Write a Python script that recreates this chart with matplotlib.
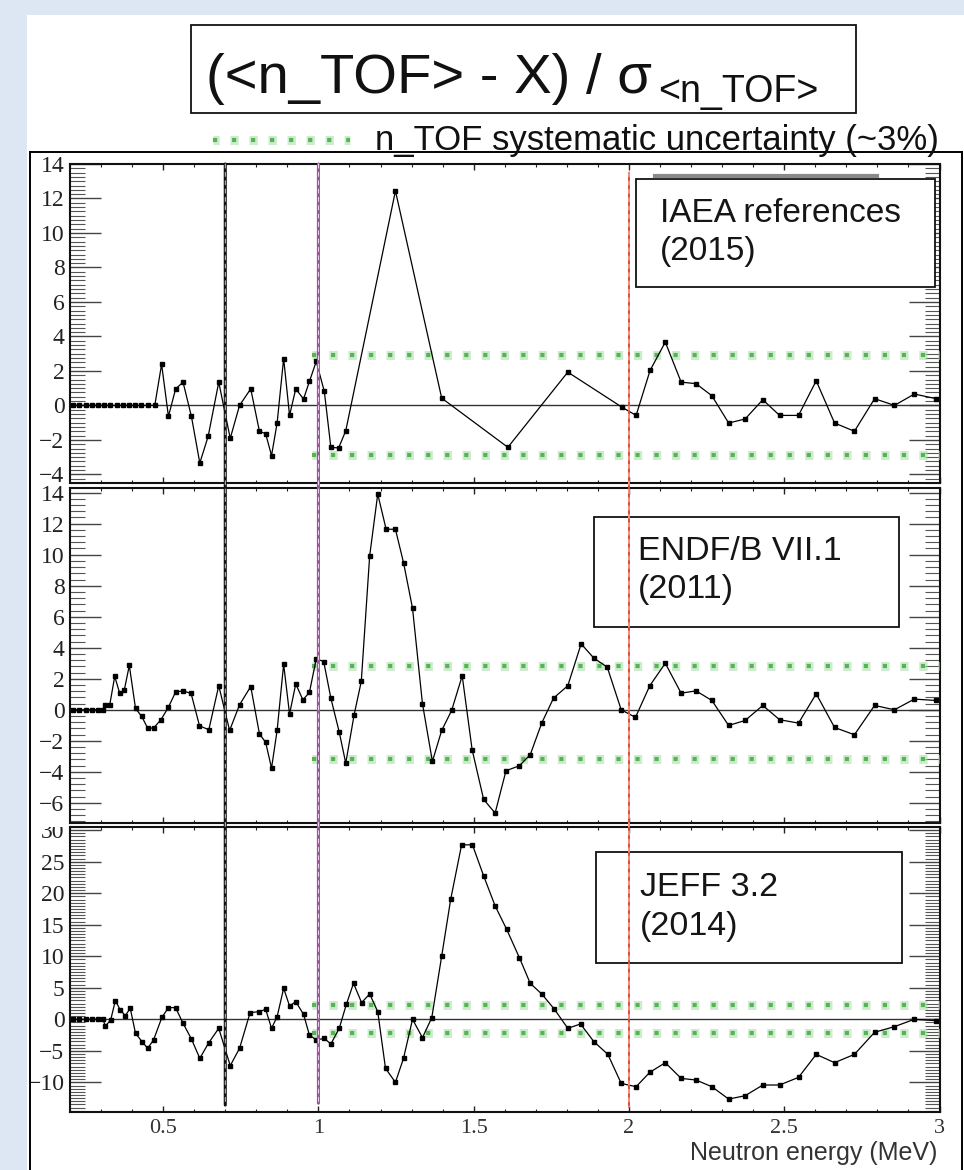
import matplotlib
matplotlib.use('Agg')
import matplotlib.pyplot as plt
from matplotlib.patches import Rectangle, ConnectionPatch
from matplotlib.lines import Line2D
from matplotlib.ticker import MultipleLocator, AutoMinorLocator, FixedLocator, FixedFormatter
from matplotlib.transforms import Bbox, TransformedBbox

plt.rcParams['lines.scale_dashes'] = False

# ---------------- data ----------------
energy_iaea = [0.21, 0.23, 0.25, 0.27, 0.29, 0.31, 0.33, 0.35, 0.37, 0.39, 0.41, 0.43, 0.45, 0.473,
               0.495, 0.517, 0.540, 0.564, 0.591, 0.618, 0.645, 0.679, 0.716, 0.746,
               0.782, 0.810, 0.830, 0.849, 0.867, 0.888, 0.907, 0.927, 0.952, 0.971,
               0.993, 1.019, 1.040, 1.065, 1.088, 1.248, 1.397, 1.610, 1.803, 1.978,
               2.023, 2.068, 2.117, 2.168, 2.216, 2.267, 2.321, 2.374, 2.431, 2.485,
               2.546, 2.603, 2.662, 2.726, 2.791, 2.855, 2.919, 2.989]
dev_iaea = [0, 0, 0, 0, 0, 0, 0, 0, 0, 0, 0, 0, 0, 0,
            2.39, -0.64, 0.95, 1.35, -0.64, -3.34, -1.79, 1.35, -1.91, 0.0,
            0.96, -1.5, -1.64, -2.91, -1.02, 2.72, -0.58, 0.96, 0.37, 1.39,
            2.55, 0.81, -2.43, -2.47, -1.47, 12.44, 0.42, -2.43, 1.93, -0.11,
            -0.58, 2.03, 3.67, 1.35, 1.26, 0.56, -1.02, -0.79, 0.33, -0.58,
            -0.58, 1.43, -1.02, -1.5, 0.39, 0.0, 0.66, 0.39]

energy_endf = [0.21, 0.23, 0.25, 0.27, 0.29, 0.306,
               0.312, 0.328, 0.344, 0.360, 0.375, 0.391, 0.411, 0.431, 0.450, 0.469,
               0.493, 0.517, 0.540, 0.564, 0.590, 0.617, 0.647, 0.679, 0.714, 0.746,
               0.782, 0.810, 0.830, 0.849, 0.867, 0.888, 0.907, 0.927, 0.950, 0.971,
               0.993, 1.017, 1.040, 1.067, 1.088, 1.115, 1.138, 1.165, 1.191, 1.218,
               1.248, 1.274, 1.303, 1.335, 1.367, 1.397, 1.429, 1.463, 1.495, 1.532,
               1.569, 1.604, 1.647, 1.682, 1.719, 1.757, 1.803, 1.846, 1.887, 1.930,
               1.975, 2.021, 2.067, 2.117, 2.168, 2.216, 2.267, 2.321, 2.374, 2.431,
               2.485, 2.546, 2.603, 2.662, 2.726, 2.791, 2.855, 2.919, 2.989]
dev_endf = [0, 0, 0, 0, 0, 0,
            0.32, 0.32, 2.15, 1.07, 1.29, 2.86, 0.09, -0.43, -1.18, -1.18,
            -0.64, 0.17, 1.14, 1.22, 1.05, -1.03, -1.29, 1.55, -1.33, 0.32,
            1.50, -1.55, -2.10, -3.76, -1.33, 2.94, -0.28, 1.67, 0.64, 1.12,
            3.29, 3.11, 0.75, -1.44, -3.44, -0.32, 1.83, 9.92, 13.91, 11.64,
            11.64, 9.49, 6.55, 0.39, -3.33, -1.33, -0.04, 2.19, -2.58, -5.78,
            -6.66, -3.93, -3.61, -2.90, -0.86, 0.75, 1.55, 4.25, 3.33, 2.75,
            0.0, -0.49, 1.55, 3.0, 1.07, 1.22, 0.60, -1.01, -0.69, 0.28,
            -0.64, -0.86, 1.03, -1.14, -1.61, 0.28, 0.0, 0.69, 0.60]

energy_jeff = [0.21, 0.23, 0.25, 0.27, 0.29, 0.306,
               0.314, 0.331, 0.346, 0.362, 0.378, 0.394, 0.411, 0.432, 0.450, 0.469,
               0.496, 0.517, 0.540, 0.564, 0.591, 0.618, 0.647, 0.679, 0.716, 0.746,
               0.780, 0.810, 0.830, 0.849, 0.867, 0.888, 0.907, 0.927, 0.952, 0.971,
               0.993, 1.019, 1.040, 1.067, 1.090, 1.113, 1.139, 1.165, 1.191, 1.216,
               1.248, 1.274, 1.303, 1.335, 1.365, 1.397, 1.426, 1.461, 1.496, 1.532,
               1.569, 1.606, 1.647, 1.682, 1.720, 1.760, 1.803, 1.844, 1.887, 1.932,
               1.975, 2.023, 2.067, 2.117, 2.168, 2.216, 2.267, 2.321, 2.374, 2.431,
               2.485, 2.546, 2.603, 2.662, 2.726, 2.791, 2.855, 2.919, 2.989]
dev_jeff = [0, 0, 0, 0, 0, 0,
            -1.06, -0.11, 2.96, 1.48, 0.58, 1.75, -2.22, -3.54, -4.60, -3.28,
            0.32, 1.85, 1.85, -0.63, -3.12, -6.19, -3.70, -1.43, -7.35, -4.60,
            1.06, 1.22, 1.59, -1.43, 0.42, 4.92, 2.12, 2.80, 0.79, -2.49,
            -3.28, -3.02, -3.92, -1.43, 2.38, 5.71, 2.65, 4.02, 1.22, -7.78,
            -10.0, -6.19, 0.0, -2.91, 0.26, 10.05, 19.05, 27.67, 27.67, 22.75,
            17.99, 14.29, 9.79, 5.71, 3.97, 1.59, -1.43, -0.74, -3.54, -5.56,
            -10.16, -10.69, -8.41, -6.88, -9.37, -9.63, -10.69, -12.65, -12.12, -10.42,
            -10.42, -9.21, -5.56, -6.88, -5.56, -2.06, -1.16, 0.0, -0.21]

panel_titles = [["IAEA references", "(2015)"],
                ["ENDF/B VII.1", "(2011)"],
                ["JEFF 3.2", "(2014)"]]
band_upper = [2.9, 2.8, 2.3]
band_lower = [-2.9, -3.2, -2.2]
band_start = 0.98
band_end = 3.0
marker_energies = [0.7, 1.0, 2.0]
x_ticks = [0.5, 1.0, 1.5, 2.0, 2.5, 3.0]
x_ticklabels = ["0.5", "1", "1.5", "2", "2.5", "3"]
title_main = "(<n_TOF> - X) / σ"
title_sub = "<n_TOF>"
legend_label = "n_TOF systematic uncertainty (~3%)"
x_label = "Neutron energy (MeV)"

# ---------------- layout ----------------
W, H, DPI = 964, 1170, 100
fig = plt.figure(figsize=(W / DPI, H / DPI), dpi=DPI)
fig.patch.set_facecolor('#dce7f3')


def fx(px):
    return px / W


def fy(py):
    return 1 - py / H


fig.add_artist(Rectangle((fx(27), 0), 1 - fx(27), fy(15), transform=fig.transFigure,
                         facecolor='white', edgecolor='none', zorder=-10))

# outer frame
for xs, ys in [([30, 30], [152, 1175]), ([30, 961.5], [152, 152]), ([961.5, 961.5], [152, 1175])]:
    fig.add_artist(Line2D([fx(v) for v in xs], [fy(v) for v in ys], transform=fig.transFigure,
                          color='black', lw=1.4, zorder=1))

SANS = 'Liberation Sans'
SERIF = 'Liberation Serif'
GREEN = '#55b555'
GREEN_HALO = '#a6dca6'
HALO_LS = (1.5, (6.0, 7.7))
CORE_LS = (0, (3.0, 10.7))

panel_specs = [
    dict(top=164, bot=483, ylim=(-4.5, 14.0), major=2, nminor=8),
    dict(top=488, bot=823, ylim=(-7.3, 14.3), major=2, nminor=5),
    dict(top=827, bot=1112, ylim=(-14.7, 30.5), major=5, nminor=10),
]
series = [(energy_iaea, dev_iaea), (energy_endf, dev_endf), (energy_jeff, dev_jeff)]

axes = []
for i, spec in enumerate(panel_specs):
    ax = fig.add_axes([fx(70), fy(spec['bot']), fx(939.5) - fx(70), (spec['bot'] - spec['top']) / H])
    ax.set_xlim(0.2, 3.0)
    ax.set_ylim(*spec['ylim'])
    e, v = series[i]
    ax.axhline(0, color='#333333', lw=1.0, zorder=2)
    # uncertainty band (dotted green)
    for yb in (band_upper[i], band_lower[i]):
        ax.plot([band_start, band_end], [yb, yb], color=GREEN_HALO, lw=6.5, alpha=0.55,
                linestyle=HALO_LS, dash_capstyle='butt', zorder=3)
        ax.plot([band_start, band_end], [yb, yb], color=GREEN, lw=3.0,
                linestyle=CORE_LS, dash_capstyle='butt', zorder=3)
    ax.plot(e, v, color='black', lw=0.9, marker='s', ms=3.3, mfc='black', mec='black', zorder=4)

    ax.xaxis.set_major_locator(MultipleLocator(0.5))
    ax.xaxis.set_minor_locator(MultipleLocator(0.1))
    ax.yaxis.set_major_locator(MultipleLocator(spec['major']))
    ax.yaxis.set_minor_locator(AutoMinorLocator(spec['nminor']))
    ax.tick_params(axis='x', which='major', direction='in', length=4.5, width=1.0,
                   top=True, bottom=True, color='#222222')
    ax.tick_params(axis='x', which='minor', direction='in', length=2.3, width=0.8,
                   top=True, bottom=True, color='#222222')
    ax.tick_params(axis='y', which='major', direction='in', length=22, width=1.0,
                   left=True, right=True, color='#444444', labelsize=17, pad=4,
                   labelfontfamily=SERIF, labelcolor='#222222')
    ax.tick_params(axis='y', which='minor', direction='in', length=11, width=0.8,
                   left=True, right=True, color='#555555')
    for s in ax.spines.values():
        s.set_linewidth(1.5)
        s.set_color('#111111')
    if i < 2:
        ax.tick_params(axis='x', labelbottom=False)
    else:
        ax.xaxis.set_major_locator(FixedLocator(x_ticks))
        ax.xaxis.set_major_formatter(FixedFormatter(x_ticklabels))
        ax.tick_params(axis='x', labelsize=16, pad=5, labelfontfamily=SERIF, labelcolor='#333333')
    axes.append(ax)

ax1, ax2, ax3 = axes

# vertical reference lines spanning all panels
vline_styles = [('#111111', 14.0, -13.6, 2.2), ('#a050a0', 14.0, -13.3, 2.2), ('#e2472f', 13.5, -13.9, 1.4)]
for xe, (col, ytop, ybot, lw) in zip(marker_energies, vline_styles):
    base = ConnectionPatch(xyA=(xe, ytop), coordsA='data', axesA=ax1,
                           xyB=(xe, ybot), coordsB='data', axesB=ax3,
                           color=col, lw=lw, shrinkA=0, shrinkB=0, zorder=6)
    fig.add_artist(base)
    over = ConnectionPatch(xyA=(xe, ytop), coordsA='data', axesA=ax1,
                           xyB=(xe, ybot), coordsB='data', axesB=ax3,
                           color='white', lw=0.6, linestyle=(0, (3, 3)), shrinkA=0, shrinkB=0,
                           zorder=7, alpha=0.9)
    fig.add_artist(over)

# panel label boxes
boxes = [(636, 179, 935, 287, 660, 221.5, 260, 24),
         (594, 517, 899, 627, 638, 560, 598, 24.5),
         (596, 852, 902, 963, 640, 896, 935, 24.5)]
for (x0, y0, x1, y1, tx, b1, b2, fs), lines in zip(boxes, panel_titles):
    fig.add_artist(Rectangle((fx(x0), fy(y1)), fx(x1) - fx(x0), (y1 - y0) / H,
                             transform=fig.transFigure, facecolor='white', edgecolor='#111111',
                             lw=1.3, zorder=4))
    fig.text(fx(tx), fy(b1), lines[0], fontsize=fs, family=SANS, va='baseline', ha='left',
             color='#151515', zorder=5)
    fig.text(fx(tx), fy(b2), lines[1], fontsize=fs, family=SANS, va='baseline', ha='left',
             color='#151515', zorder=5)

# grey shadow bar above IAEA box
fig.add_artist(Line2D([fx(655), fx(877)], [fy(176), fy(176)], transform=fig.transFigure,
                      color='#8a8a8a', lw=3, zorder=4))

# title box
fig.add_artist(Rectangle((fx(191), fy(113)), fx(856) - fx(191), (113 - 25) / H,
                         transform=fig.transFigure, facecolor='white', edgecolor='#111111',
                         lw=1.3, zorder=4))
t_main = fig.text(fx(206), fy(93), title_main, fontsize=40.5, family=SANS, va='baseline',
                  ha='left', color='#111111', zorder=5)

# legend
fig.add_artist(Line2D([fx(213), fx(350)], [fy(140), fy(140)], transform=fig.transFigure,
                      color=GREEN_HALO, lw=6.5, alpha=0.55, linestyle=HALO_LS, zorder=5))
fig.add_artist(Line2D([fx(213), fx(350)], [fy(140), fy(140)], transform=fig.transFigure,
                      color=GREEN, lw=3.0, linestyle=CORE_LS, zorder=5))
fig.text(fx(375), fy(150), legend_label, fontsize=25, family=SANS, va='baseline', ha='left',
         color='#111111', zorder=5)

# x axis title
fig.text(fx(937), fy(1160), x_label, fontsize=18, family=SANS, va='baseline', ha='right',
         color='#333333')

fig.canvas.draw()
renderer = fig.canvas.get_renderer()
bb = t_main.get_window_extent(renderer)
sub_x = (bb.x1 + 6) / W
fig.text(sub_x, fy(102), title_sub, fontsize=27, family=SANS, va='baseline', ha='left',
         color='#111111', zorder=5)

# tick labels cut at the panel edge as in the original: bottom of the top panel, top of the bottom panel
clip_ranges = {0: (0.0, 2.0), 2: (-1.0, 1.0)}
for idx, (ylo, yhi) in clip_ranges.items():
    ax = axes[idx]
    clip = TransformedBbox(Bbox([[-0.2, ylo], [1.1, yhi]]), ax.transAxes)
    for t in ax.yaxis.get_major_ticks():
        t.label1.set_clip_box(clip)
        t.label1.set_clip_on(True)

fig.savefig('out.png', dpi=DPI, facecolor=fig.get_facecolor())
